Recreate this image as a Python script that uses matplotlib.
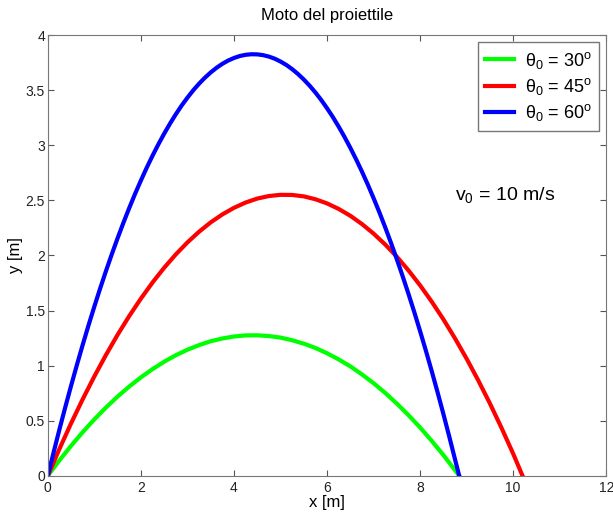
import matplotlib
matplotlib.use("Agg")
from matplotlib import pyplot as plt

plt.rcParams['font.family'] = ['Liberation Sans', 'DejaVu Sans']
plt.rcParams['mathtext.fontset'] = 'custom'
plt.rcParams['mathtext.rm'] = 'Liberation Sans'
plt.rcParams['mathtext.it'] = 'Liberation Sans'

# trajectories (x in m, y in m)
x30 = [0, 0.25, 0.5, 0.75, 1, 1.25, 1.5, 1.75, 2, 2.25, 2.5, 2.75, 3, 3.25, 3.5, 3.75,
       4, 4.25, 4.5, 4.75, 5, 5.25, 5.5, 5.75, 6, 6.25, 6.5, 6.75, 7, 7.25, 7.5, 7.75,
       8, 8.25, 8.5, 8.75, 8.84]
y30 = [0, 0.140, 0.272, 0.396, 0.512, 0.620, 0.719, 0.810, 0.893, 0.968, 1.035, 1.094,
       1.144, 1.186, 1.221, 1.246, 1.264, 1.274, 1.275, 1.268, 1.254, 1.230, 1.199, 1.160,
       1.112, 1.056, 0.993, 0.920, 0.840, 0.752, 0.655, 0.550, 0.438, 0.316, 0.188, 0.050, 0]

x45 = [0, 0.25, 0.5, 0.75, 1, 1.25, 1.5, 1.75, 2, 2.25, 2.5, 2.75, 3, 3.25, 3.5, 3.75,
       4, 4.25, 4.5, 4.75, 5, 5.25, 5.5, 5.75, 6, 6.25, 6.5, 6.75, 7, 7.25, 7.5, 7.75,
       8, 8.25, 8.5, 8.75, 9, 9.25, 9.5, 9.75, 10, 10.2]
y45 = [0, 0.244, 0.476, 0.695, 0.902, 1.097, 1.280, 1.450, 1.608, 1.754, 1.888, 2.009,
       2.118, 2.215, 2.300, 2.372, 2.432, 2.480, 2.516, 2.539, 2.550, 2.549, 2.536, 2.510,
       2.472, 2.422, 2.360, 2.285, 2.198, 2.099, 1.988, 1.864, 1.728, 1.580, 1.420, 1.247,
       1.062, 0.865, 0.656, 0.434, 0.200, 0]

x60 = [0, 0.125, 0.25, 0.375, 0.5, 0.625, 0.75, 0.875, 1, 1.125, 1.25, 1.375, 1.5, 1.625,
       1.75, 1.875, 2, 2.125, 2.25, 2.375, 2.5, 2.625, 2.75, 2.875, 3, 3.125, 3.25, 3.375,
       3.5, 3.625, 3.75, 3.875, 4, 4.125, 4.25, 4.375, 4.5, 4.625, 4.75, 4.875, 5, 5.125,
       5.25, 5.375, 5.5, 5.625, 5.75, 5.875, 6, 6.125, 6.25, 6.375, 6.5, 6.625, 6.75, 6.875,
       7, 7.125, 7.25, 7.375, 7.5, 7.625, 7.75, 7.875, 8, 8.125, 8.25, 8.375, 8.5, 8.625,
       8.75, 8.84]
y60 = [0, 0.213, 0.421, 0.622, 0.817, 1.006, 1.189, 1.366, 1.536, 1.701, 1.859, 2.011,
       2.157, 2.297, 2.431, 2.559, 2.680, 2.796, 2.905, 3.008, 3.105, 3.196, 3.281, 3.360,
       3.432, 3.499, 3.559, 3.613, 3.661, 3.703, 3.739, 3.769, 3.792, 3.810, 3.821, 3.826,
       3.825, 3.818, 3.805, 3.786, 3.760, 3.729, 3.691, 3.647, 3.597, 3.541, 3.479, 3.411,
       3.336, 3.256, 3.169, 3.076, 2.977, 2.872, 2.761, 2.644, 2.520, 2.391, 2.255, 2.113,
       1.965, 1.811, 1.651, 1.485, 1.312, 1.134, 0.949, 0.758, 0.561, 0.358, 0.149, 0]

labels = [u'θ$_0$ = 30$^{\\rm o}$', u'θ$_0$ = 45$^{\\rm o}$', u'θ$_0$ = 60$^{\\rm o}$']
colors = ['#00ff00', '#ff0000', '#0000ff']

fig = plt.figure(figsize=(6.13, 5.16), dpi=100)
ax = fig.add_axes([0.078, 0.078, 0.911, 0.854])

for xs, ys, lab, c in zip([x30, x45, x60], [y30, y45, y60], labels, colors):
    ax.plot(xs, ys, color=c, lw=3, label=lab, solid_joinstyle='round')

ax.set_xlim(0, 12)
ax.set_ylim(0, 4)
ax.set_xticks([0, 2, 4, 6, 8, 10, 12])
ax.set_yticks([0, 0.5, 1, 1.5, 2, 2.5, 3, 3.5, 4])
ax.set_yticklabels(['0', '0.5', '1', '1.5', '2', '2.5', '3', '3.5', '4'])
ax.tick_params(direction='in', length=4, labelsize=10, top=True, right=True,
               colors='#555555', labelcolor='#222222')
ax.tick_params(axis='y', pad=2)
for s in ax.spines.values():
    s.set_color('#777777')

ax.set_xlabel('x [m]', fontsize=12, labelpad=0)
ax.set_ylabel('y [m]', fontsize=12, labelpad=2)
ax.set_title('Moto del proiettile', fontsize=12, pad=11)

ax.text(8.75, 2.55, u'v$_0$ = 10 m/s', fontsize=14, va='center', ha='left')

leg = ax.legend(loc='upper right', fontsize=13, handlelength=1.6, borderpad=0.4,
                labelspacing=0.3, handletextpad=0.6, fancybox=False, framealpha=1,
                borderaxespad=0.4)
leg.get_frame().set_edgecolor('#777777')

fig.savefig('out.png', dpi=100)
